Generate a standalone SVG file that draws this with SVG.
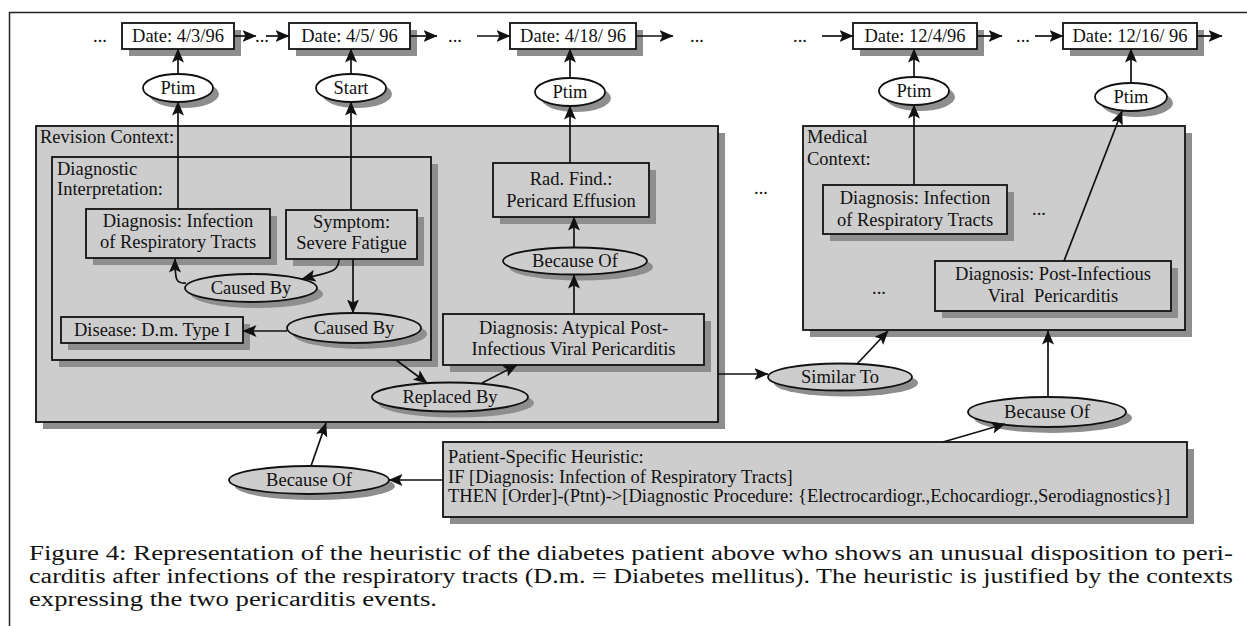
<svg xmlns="http://www.w3.org/2000/svg" width="1247" height="626" viewBox="0 0 1247 626">
<style>
text{font-family:"Liberation Serif","Times New Roman",serif;font-size:18.5px;fill:#111;white-space:pre}
.c{text-anchor:middle}
.cap{font-size:20px}
.box{fill:#cdcdcd;stroke:#111;stroke-width:1.8}
.wbox{fill:#fff;stroke:#111;stroke-width:1.8}
.sh{fill:#8e8e8e;stroke:none}
.ln{fill:none;stroke:#111;stroke-width:1.7;marker-end:url(#ah)}
.frame{fill:none;stroke:#222;stroke-width:1.5}
</style>
<defs>
<marker id="ah" viewBox="0 0 14 12" markerWidth="14" markerHeight="12" refX="13.5" refY="6" orient="auto" markerUnits="userSpaceOnUse">
<path d="M0,0 L14,6 L0,12 L3,6 z" fill="#111"/>
</marker>
</defs>
<rect width="1247" height="626" fill="#fff"/>
<path class="frame" d="M9.5,626 V12.5 H1247"/>

<g id="top-dots">
<text class="c" x="100" y="42">...</text>
<text class="c" x="262" y="42">...</text>
<text class="c" x="455" y="42">...</text>
<text class="c" x="697" y="42">...</text>
<text class="c" x="800" y="42">...</text>
<text class="c" x="1023" y="42">...</text>
</g>

<g id="date1"><rect class="sh" x="129" y="30" width="112" height="26"/><rect class="wbox" x="122" y="23" width="112" height="26"/><text class="c" x="178" y="42">Date: 4/3/96</text></g>
<g id="date2"><rect class="sh" x="296" y="30" width="121" height="26"/><rect class="wbox" x="289" y="23" width="121" height="26"/><text class="c" x="349.5" y="42">Date: 4/5/ 96</text></g>
<g id="date3"><rect class="sh" x="517" y="30" width="126" height="26"/><rect class="wbox" x="510" y="23" width="126" height="26"/><text class="c" x="573" y="42">Date: 4/18/ 96</text></g>
<g id="date4"><rect class="sh" x="860" y="30" width="124" height="26"/><rect class="wbox" x="853" y="23" width="124" height="26"/><text class="c" x="915" y="42">Date: 12/4/96</text></g>
<g id="date5"><rect class="sh" x="1070" y="30" width="134" height="26"/><rect class="wbox" x="1063" y="23" width="134" height="26"/><text class="c" x="1130" y="42">Date: 12/16/ 96</text></g>

<g id="ptim1"><ellipse class="sh" cx="184" cy="94" rx="35" ry="14"/><ellipse class="wbox" cx="178" cy="88" rx="35" ry="14"/><text class="c" x="178" y="94">Ptim</text></g>
<g id="start"><ellipse class="sh" cx="357" cy="94" rx="35" ry="14"/><ellipse class="wbox" cx="351" cy="88" rx="35" ry="14"/><text class="c" x="351" y="94">Start</text></g>
<g id="ptim2"><ellipse class="sh" cx="576" cy="98" rx="35" ry="14"/><ellipse class="wbox" cx="570" cy="92" rx="35" ry="14"/><text class="c" x="570" y="98">Ptim</text></g>
<g id="ptim3"><ellipse class="sh" cx="920" cy="97" rx="35" ry="14"/><ellipse class="wbox" cx="914" cy="91" rx="35" ry="14"/><text class="c" x="914" y="97">Ptim</text></g>
<g id="ptim4"><ellipse class="sh" cx="1137" cy="103" rx="36" ry="14"/><ellipse class="wbox" cx="1131" cy="97" rx="36" ry="14"/><text class="c" x="1131" y="103">Ptim</text></g>

<g id="revision-context"><rect class="sh" x="43" y="133" width="682" height="296"/><rect class="box" x="36" y="126" width="682" height="296"/><text x="40" y="143">Revision Context:</text></g>
<g id="diagnostic-interpretation"><rect class="sh" x="59" y="164" width="379" height="203"/><rect class="box" x="52" y="157" width="379" height="203"/><text x="57" y="175">Diagnostic</text><text x="57" y="195">Interpretation:</text></g>
<g id="dx-infection"><rect class="sh" x="93" y="216" width="184" height="49"/><rect class="box" x="86" y="209" width="184" height="49"/><text class="c" x="178" y="227">Diagnosis: Infection</text><text class="c" x="178" y="248">of Respiratory Tracts</text></g>
<g id="symptom"><rect class="sh" x="293" y="217" width="131" height="49"/><rect class="box" x="286" y="210" width="131" height="49"/><text class="c" x="351.5" y="228">Symptom:</text><text class="c" x="351.5" y="249">Severe Fatigue</text></g>
<g id="caused-by-1"><ellipse class="sh" cx="257" cy="294" rx="66" ry="14"/><ellipse class="box" cx="251" cy="288" rx="66" ry="14"/><text class="c" x="251" y="294">Caused By</text></g>
<g id="caused-by-2"><ellipse class="sh" cx="360" cy="334" rx="67" ry="15"/><ellipse class="box" cx="354" cy="328" rx="67" ry="15"/><text class="c" x="354" y="334">Caused By</text></g>
<g id="disease"><rect class="sh" x="68" y="324" width="182" height="26"/><rect class="box" x="61" y="317" width="182" height="26"/><text class="c" x="152" y="336">Disease: D.m. Type I</text></g>
<g id="rad-find"><rect class="sh" x="500" y="170" width="156" height="54"/><rect class="box" x="493" y="163" width="156" height="54"/><text class="c" x="571" y="185">Rad. Find.:</text><text class="c" x="571" y="207">Pericard Effusion</text></g>
<g id="because-of-mid"><ellipse class="sh" cx="581" cy="267" rx="72" ry="13.5"/><ellipse class="box" cx="575" cy="261" rx="72" ry="13.5"/><text class="c" x="575" y="267">Because Of</text></g>
<g id="dx-atypical"><rect class="sh" x="450" y="321" width="261" height="51"/><rect class="box" x="443" y="314" width="261" height="51"/><text class="c" x="573.5" y="334">Diagnosis: Atypical Post-</text><text class="c" x="573.5" y="355">Infectious Viral Pericarditis</text></g>
<g id="replaced-by"><ellipse class="sh" cx="456" cy="403" rx="78" ry="14.5"/><ellipse class="box" cx="450" cy="397" rx="78" ry="14.5"/><text class="c" x="450" y="403">Replaced By</text></g>

<g id="mid-dots"><text class="c" x="761" y="194">...</text></g>

<g id="medical-context"><rect class="sh" x="810" y="133" width="382" height="204"/><rect class="box" x="803" y="126" width="382" height="204"/><text x="807" y="143">Medical</text><text x="807" y="165">Context:</text><text class="c" x="1039" y="215">...</text><text class="c" x="879" y="294">...</text></g>
<g id="mc-dx-infection"><rect class="sh" x="830" y="192" width="184" height="49"/><rect class="box" x="823" y="185" width="184" height="49"/><text class="c" x="915" y="204">Diagnosis: Infection</text><text class="c" x="915" y="226">of Respiratory Tracts</text></g>
<g id="mc-dx-postinf"><rect class="sh" x="942" y="268" width="236" height="50"/><rect class="box" x="935" y="261" width="236" height="50"/><text class="c" x="1053" y="280">Diagnosis: Post-Infectious</text><text class="c" x="1053" y="302">Viral  Pericarditis</text></g>

<g id="similar-to"><ellipse class="sh" cx="846" cy="383" rx="72" ry="13.5"/><ellipse class="box" cx="840" cy="377" rx="72" ry="13.5"/><text class="c" x="840" y="383">Similar To</text></g>
<g id="because-of-right"><ellipse class="sh" cx="1053" cy="418" rx="79" ry="15"/><ellipse class="box" cx="1047" cy="412" rx="79" ry="15"/><text class="c" x="1047" y="418">Because Of</text></g>
<g id="because-of-left"><ellipse class="sh" cx="315" cy="486" rx="80" ry="14"/><ellipse class="box" cx="309" cy="480" rx="80" ry="14"/><text class="c" x="309" y="486">Because Of</text></g>
<g id="heuristic"><rect class="sh" x="450" y="449" width="744" height="75"/><rect class="box" x="443" y="442" width="744" height="75"/>
<text x="448" y="463">Patient-Specific Heuristic:</text>
<text x="448" y="483">IF [Diagnosis: Infection of Respiratory Tracts]</text>
<text x="448" y="502">THEN [Order]-(Ptnt)-&gt;[Diagnostic Procedure: {Electrocardiogr.,Echocardiogr.,Serodiagnostics}]</text></g>

<g id="connectors">
<line class="ln" x1="234" y1="36" x2="256" y2="36"/>
<line class="ln" x1="266" y1="36" x2="289" y2="36"/>
<line class="ln" x1="410" y1="36" x2="437" y2="36"/>
<line class="ln" x1="477" y1="36" x2="510" y2="36"/>
<line class="ln" x1="636" y1="36" x2="673" y2="36"/>
<line class="ln" x1="822" y1="36" x2="853" y2="36"/>
<line class="ln" x1="977" y1="36" x2="1002" y2="36"/>
<line class="ln" x1="1035" y1="36" x2="1063" y2="36"/>
<line class="ln" x1="1197" y1="36" x2="1222" y2="36"/>
<line class="ln" x1="178" y1="74" x2="178" y2="49"/>
<line class="ln" x1="351" y1="74" x2="351" y2="49"/>
<line class="ln" x1="570" y1="78" x2="570" y2="49"/>
<line class="ln" x1="914" y1="77" x2="914" y2="49"/>
<line class="ln" x1="1131" y1="83" x2="1131" y2="49"/>
<line class="ln" x1="178" y1="209" x2="178" y2="102"/>
<line class="ln" x1="351" y1="210" x2="351" y2="102"/>
<line class="ln" x1="570" y1="163" x2="570" y2="106"/>
<line class="ln" x1="914" y1="185" x2="914" y2="105"/>
<line class="ln" x1="1064" y1="261" x2="1122" y2="111"/>
<path class="ln" d="M339,259 C339,272 330,272 302,279"/>
<path class="ln" d="M186,283 C176,284 175,280 175,259"/>
<line class="ln" x1="353" y1="259" x2="353" y2="313"/>
<line class="ln" x1="287" y1="331" x2="243" y2="331"/>
<line class="ln" x1="574" y1="247" x2="574" y2="217"/>
<line class="ln" x1="574" y1="314" x2="574" y2="275"/>
<line class="ln" x1="396" y1="360" x2="427" y2="383"/>
<line class="ln" x1="482" y1="383" x2="517" y2="365"/>
<line class="ln" x1="718" y1="374" x2="768" y2="374"/>
<line class="ln" x1="857" y1="364" x2="888" y2="331"/>
<line class="ln" x1="1048" y1="397" x2="1048" y2="331"/>
<line class="ln" x1="943" y1="442" x2="1005" y2="424"/>
<line class="ln" x1="443" y1="480" x2="389" y2="480"/>
<line class="ln" x1="311" y1="466" x2="326" y2="423"/>
</g>

<g id="caption">
<text class="cap" x="29" y="560" textLength="1204" lengthAdjust="spacingAndGlyphs">Figure 4: Representation of the heuristic of the diabetes patient above who shows an unusual disposition to peri-</text>
<text class="cap" x="29" y="583" textLength="1204" lengthAdjust="spacingAndGlyphs">carditis after infections of the respiratory tracts (D.m. = Diabetes mellitus). The heuristic is justified by the contexts</text>
<text class="cap" x="29" y="606" textLength="408" lengthAdjust="spacingAndGlyphs">expressing the two pericarditis events.</text>
</g>
</svg>
